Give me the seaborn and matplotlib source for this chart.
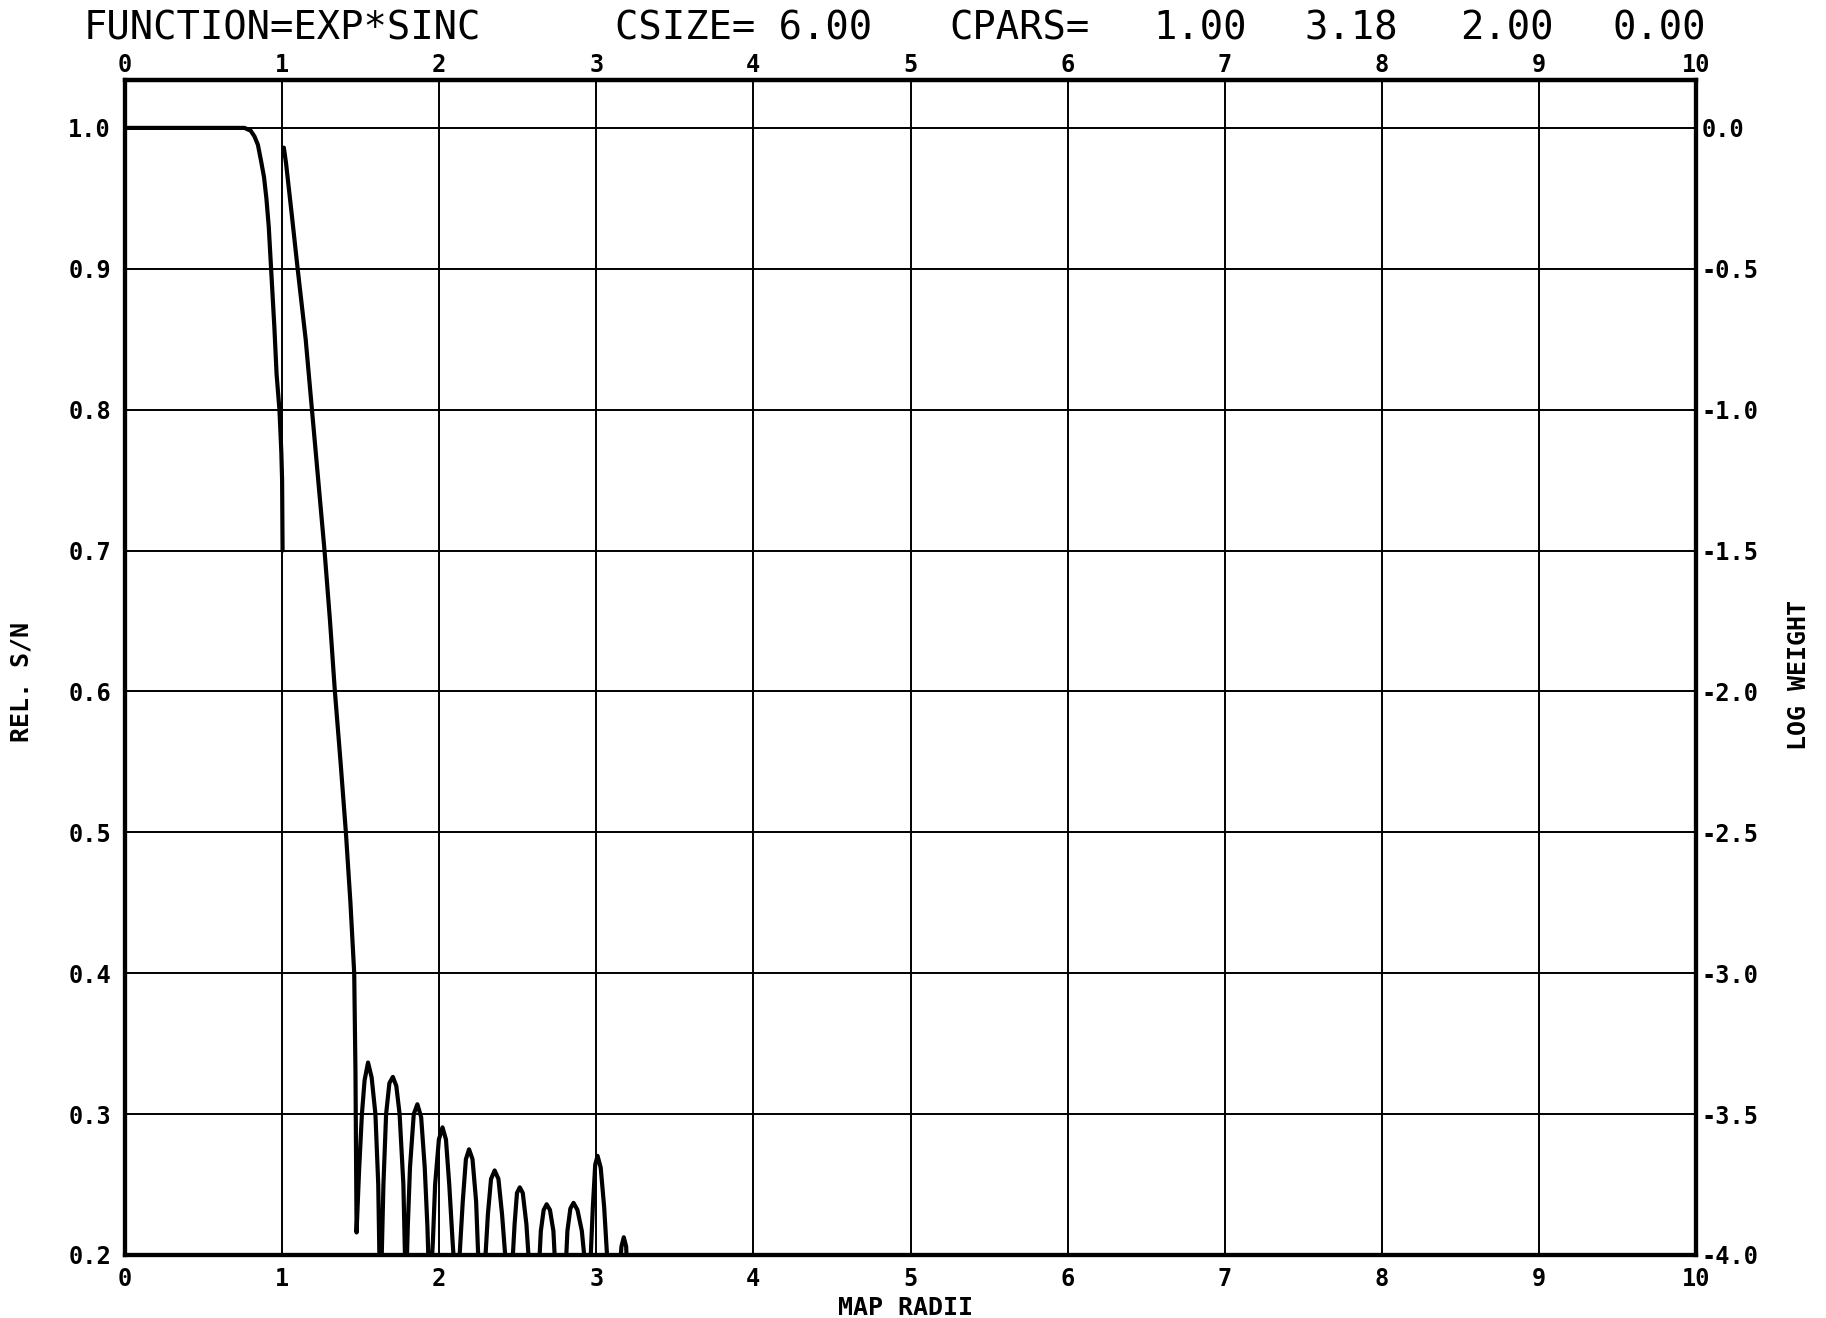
import matplotlib
matplotlib.use("Agg")
import matplotlib.pyplot as plt
import pandas as pd
import seaborn as sns

# Relative S/N curve (left axis)
sn_radius = [0.0, 0.761, 0.80, 0.824, 0.846, 0.867, 0.885, 0.90, 0.915, 0.93, 0.951,
             0.965, 0.983, 0.995, 1.0, 1.003]
sn_value = [1.0, 1.0, 0.998, 0.994, 0.988, 0.976, 0.965, 0.95, 0.93, 0.90, 0.858,
            0.825, 0.80, 0.77, 0.75, 0.70]

# Log weight curve (right axis), main lobe then sidelobes
lw_radius = [1.011, 1.025, 1.06, 1.099, 1.15, 1.19, 1.23, 1.27, 1.305, 1.336, 1.372, 1.406,
             1.435, 1.459, 1.467, 1.474,
             1.49, 1.508, 1.525, 1.547, 1.57, 1.594, 1.612, 1.622,
             1.63, 1.645, 1.662, 1.683, 1.705, 1.727, 1.748, 1.772, 1.786,
             1.79, 1.80, 1.814, 1.838, 1.861, 1.885, 1.908, 1.925, 1.936,
             1.946, 1.96, 1.974, 1.998, 2.021, 2.043, 2.064, 2.085, 2.103,
             2.117, 2.13, 2.15, 2.17, 2.19, 2.212, 2.235, 2.248, 2.256,
             2.282, 2.295, 2.31, 2.33, 2.353, 2.377, 2.40, 2.42, 2.438,
             2.459, 2.48, 2.495, 2.513, 2.532, 2.555, 2.58,
             2.63, 2.647, 2.665, 2.684, 2.705, 2.727, 2.744,
             2.801, 2.816, 2.835, 2.855, 2.88, 2.908, 2.94,
             2.957, 2.978, 2.993, 3.008, 3.028, 3.05, 3.079,
             3.143, 3.16, 3.175, 3.19, 3.2]
lw_value = [-0.07, -0.125, -0.3, -0.5, -0.75, -1.0, -1.25, -1.5, -1.75, -2.0, -2.25, -2.5,
            -2.75, -3.0, -3.35, -3.92,
            -3.7, -3.5, -3.38, -3.317, -3.37, -3.5, -3.75, -4.1,
            -4.1, -3.75, -3.5, -3.39, -3.368, -3.40, -3.5, -3.75, -4.1,
            -4.1, -3.9, -3.69, -3.5, -3.465, -3.51, -3.69, -3.9, -4.1,
            -4.1, -3.95, -3.75, -3.59, -3.547, -3.59, -3.75, -3.95, -4.1,
            -4.1, -4.0, -3.81, -3.66, -3.625, -3.66, -3.81, -4.0, -4.1,
            -4.1, -4.0, -3.855, -3.73, -3.70, -3.73, -3.855, -4.0, -4.1,
            -4.1, -3.89, -3.78, -3.76, -3.78, -3.89, -4.1,
            -4.1, -3.915, -3.84, -3.82, -3.84, -3.915, -4.1,
            -4.1, -3.915, -3.835, -3.815, -3.84, -3.915, -4.1,
            -4.1, -3.83, -3.68, -3.648, -3.69, -3.83, -4.1,
            -4.1, -3.97, -3.937, -3.97, -4.1]

x_ticks = list(range(0, 11))
sn_ticks = [0.2, 0.3, 0.4, 0.5, 0.6, 0.7, 0.8, 0.9, 1.0]
lw_ticks = [-4.0, -3.5, -3.0, -2.5, -2.0, -1.5, -1.0, -0.5, 0.0]

title_parts = [("FUNCTION=EXP*SINC", 84), ("CSIZE= 6.00", 615), ("CPARS=", 949),
               ("1.00", 1153), ("3.18", 1304), ("2.00", 1460), ("0.00", 1612)]

df_sn = pd.DataFrame({"radius": sn_radius, "sn": sn_value})
df_lw = pd.DataFrame({"radius": lw_radius, "lw": lw_value})

sns.set_style("white")
plt.rcParams['font.family'] = ['DejaVu Sans Mono', 'DejaVu Sans']
plt.rcParams['text.color'] = 'black'
plt.rcParams['axes.labelcolor'] = 'black'
plt.rcParams['xtick.color'] = 'black'
plt.rcParams['ytick.color'] = 'black'

W, H = 1826, 1318
fig = plt.figure(figsize=(W / 100, H / 100), dpi=100)
ax = fig.add_axes([125 / W, 1 - 1255 / H, (1696 - 125) / W, (1255 - 80) / H])

TICK_FS = 17
sn_top = 1.034
ax.set_xlim(0, 10)
ax.set_ylim(0.2, sn_top)
ax.set_xticks(x_ticks)
ax.set_xticklabels([str(v) for v in x_ticks], fontweight='bold')
ax.set_yticks(sn_ticks)
ax.set_yticklabels([f"{v:.1f}" for v in sn_ticks], fontweight='bold')
ax.grid(True, color='black', linewidth=1.4)
ax.set_axisbelow(True)
for s in ax.spines.values():
    s.set_color('black')
    s.set_linewidth(3)
ax.tick_params(axis='both', length=0, labelsize=TICK_FS)
ax.tick_params(axis='x', pad=9)
ax.tick_params(axis='y', pad=10)

top = ax.secondary_xaxis('top')
top.set_xticks(x_ticks)
top.set_xticklabels([str(v) for v in x_ticks], fontweight='bold')
top.tick_params(length=0, labelsize=TICK_FS, pad=2)
top.spines['top'].set_linewidth(3)

sns.lineplot(data=df_sn, x='radius', y='sn', ax=ax, color='black', linewidth=3,
             sort=False, estimator=None)

ax2 = ax.twinx()
ax2.set_ylim((0.2 - 1.0) * 5, (sn_top - 1.0) * 5)
ax2.set_yticks(lw_ticks)
ax2.set_yticklabels([f"{v:.1f}" for v in lw_ticks], fontweight='bold')
ax2.tick_params(axis='y', length=0, labelsize=TICK_FS, pad=4)
for s in ax2.spines.values():
    s.set_linewidth(3)
    s.set_color('black')
ax2.grid(False)
sns.lineplot(data=df_lw, x='radius', y='lw', ax=ax2, color='black', linewidth=3,
             sort=False, estimator=None)

ax.set_xlabel('MAP RADII', fontsize=18, fontweight='bold')
ax.xaxis.set_label_coords(0.497, -0.035)
ax.set_ylabel('REL. S/N', fontsize=18, fontweight='bold')
ax.yaxis.set_label_coords(-0.058, 0.488)
ax2.set_ylabel('LOG WEIGHT', fontsize=18, fontweight='bold')
ax2.yaxis.set_label_coords(1.058, 0.494)
ax2.yaxis.label.set_rotation(90)

for text, xpx in title_parts:
    fig.text(xpx / W, 1 - 29 / H, text, fontsize=28, ha='left', va='center')

fig.savefig('out.png', dpi=100)
